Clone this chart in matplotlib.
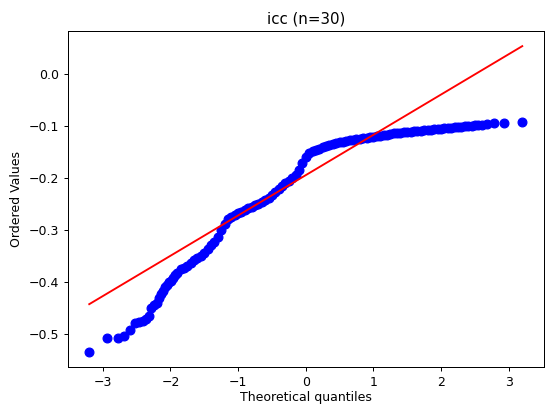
import matplotlib
matplotlib.use('Agg')
import matplotlib.pyplot as plt
import numpy as np

# theoretical quantiles (x) and ordered values (y)
quantiles_left = [-3.20, -2.93, -2.78, -2.68, -2.60, -2.53, -2.47, -2.41, -2.36, -2.32,
                  -2.28, -2.24, -2.20, -2.17, -2.14, -2.11, -2.08, -2.05, -2.02, -1.99,
                  -1.96, -1.93]
values_left = [-0.534, -0.508, -0.508, -0.503, -0.492, -0.478, -0.476, -0.475, -0.472, -0.466,
               -0.450, -0.445, -0.440, -0.430, -0.424, -0.418, -0.410, -0.406, -0.401, -0.398,
               -0.392, -0.386]

quantiles_mid = [-1.90, -1.85, -1.80, -1.75, -1.70, -1.65, -1.60, -1.55, -1.50, -1.45,
                 -1.40, -1.35, -1.30, -1.25, -1.20, -1.15, -1.10, -1.05, -1.00, -0.95,
                 -0.90, -0.85, -0.80, -0.75, -0.70, -0.65, -0.60, -0.55, -0.50, -0.45,
                 -0.40, -0.35, -0.30, -0.25, -0.20, -0.15, -0.10, -0.05, 0.00, 0.05,
                 0.10, 0.15, 0.20, 0.25, 0.30, 0.35, 0.40, 0.45, 0.50, 0.55,
                 0.60, 0.65, 0.70, 0.75, 0.80, 0.85, 0.90, 0.95, 1.00, 1.05,
                 1.10, 1.15, 1.20, 1.25, 1.30, 1.35, 1.40, 1.45, 1.50, 1.55,
                 1.60, 1.65, 1.70, 1.75, 1.80, 1.85, 1.90, 1.95, 2.00, 2.05,
                 2.10, 2.15, 2.20, 2.25, 2.30, 2.35, 2.40, 2.45, 2.50, 2.55]
values_mid = [-0.382, -0.376, -0.374, -0.369, -0.363, -0.358, -0.354, -0.350, -0.344, -0.336,
              -0.330, -0.323, -0.313, -0.300, -0.288, -0.280, -0.275, -0.271, -0.268, -0.265,
              -0.262, -0.259, -0.256, -0.253, -0.250, -0.246, -0.242, -0.238, -0.233, -0.228,
              -0.222, -0.216, -0.211, -0.206, -0.201, -0.195, -0.185, -0.172, -0.160, -0.153,
              -0.149, -0.146, -0.144, -0.141, -0.139, -0.137, -0.135, -0.134, -0.132, -0.131,
              -0.129, -0.128, -0.127, -0.126, -0.125, -0.124, -0.123, -0.122, -0.121, -0.120,
              -0.119, -0.118, -0.117, -0.116, -0.115, -0.114, -0.114, -0.113, -0.112, -0.112,
              -0.111, -0.110, -0.110, -0.109, -0.108, -0.108, -0.107, -0.106, -0.106, -0.105,
              -0.105, -0.104, -0.103, -0.103, -0.102, -0.101, -0.101, -0.100, -0.099, -0.099]

quantiles_right = [2.61, 2.68, 2.78, 2.93, 3.20]
values_right = [-0.098, -0.097, -0.095, -0.094, -0.092]

# least squares fit line
fit_slope = 0.0774
fit_intercept = -0.195

title = 'icc (n=30)'

osm = np.array(quantiles_left + quantiles_mid + quantiles_right)
osr = np.array(values_left + values_mid + values_right)

dpi = 90
fig = plt.figure(figsize=(545 / dpi, 406 / dpi), dpi=dpi)
ax = fig.add_axes([0.124, 0.096, 0.874, 0.828])

ax.plot(osm, osr, 'bo', markersize=7)
line_x = np.array([osm.min(), osm.max()])
ax.plot(line_x, fit_slope * line_x + fit_intercept, 'r-')

ax.set_title(title)
ax.set_xlabel('Theoretical quantiles', labelpad=2)
ax.set_ylabel('Ordered Values')

fig.savefig('out.png', dpi=dpi)
